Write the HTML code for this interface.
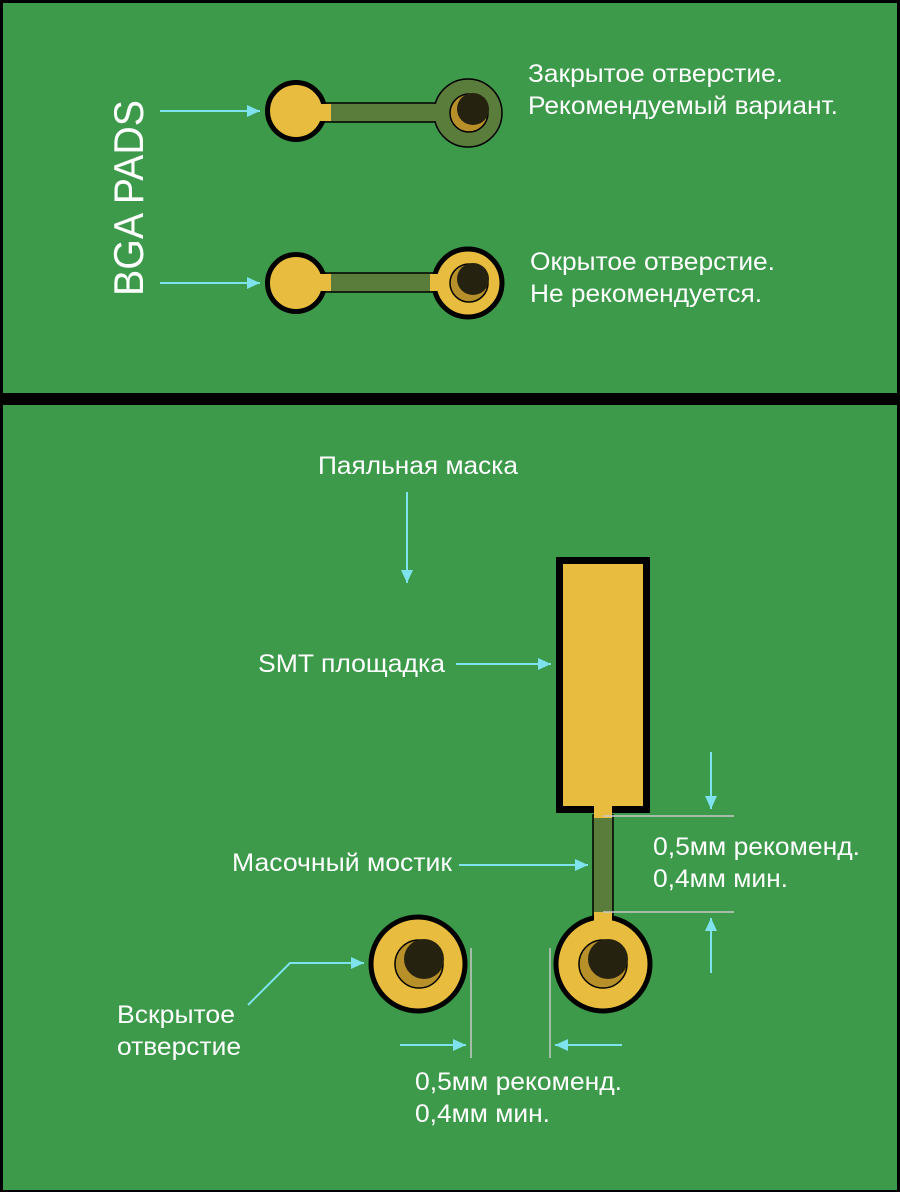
<!DOCTYPE html>
<html><head><meta charset="utf-8"><style>
html,body{margin:0;padding:0;background:#000;}
svg{display:block;}
text{font-family:"Liberation Sans",sans-serif;fill:#fff;font-size:25px;}
</style></head><body>
<svg width="900" height="1192" viewBox="0 0 900 1192" xmlns="http://www.w3.org/2000/svg">
<defs>
<marker id="ah" markerWidth="14" markerHeight="12" refX="13" refY="6" orient="auto" markerUnits="userSpaceOnUse">
<path d="M0,0 L13,6 L0,12 z" fill="#7fe3ef"/>
</marker>
</defs>
<rect x="0" y="0" width="900" height="1192" fill="#000"/>
<rect x="3" y="3" width="894" height="390" fill="#3c9a4a"/>
<rect x="3" y="405" width="894" height="785" fill="#3c9a4a"/>

<!-- BGA PADS -->
<text transform="translate(143,296) rotate(-90)" style="font-size:42px" textLength="196" lengthAdjust="spacingAndGlyphs">BGA PADS</text>

<g stroke="#7fe3ef" stroke-width="2" fill="none">
<line x1="160" y1="111" x2="260" y2="111" marker-end="url(#ah)"/>
<line x1="160" y1="283" x2="260" y2="283" marker-end="url(#ah)"/>
</g>

<!-- Row 1 -->
<rect x="320" y="103" width="120" height="19" fill="#5a7d3c" stroke="#000" stroke-width="1.5"/>
<circle cx="296" cy="111" r="28.5" fill="#e8bc3e" stroke="#000" stroke-width="5"/>
<rect x="320" y="104" width="11" height="17" fill="#e8bc3e"/>
<circle cx="468" cy="113" r="34" fill="#5a7d3c" stroke="#000" stroke-width="1.5"/>
<rect x="430" y="104" width="10" height="17" fill="#5a7d3c"/>
<circle cx="469" cy="113" r="19" fill="#b8902a" stroke="#000" stroke-width="1.5"/>
<circle cx="473" cy="109" r="16" fill="#262210"/>

<!-- Row 2 -->
<rect x="320" y="273" width="120" height="19" fill="#5a7d3c" stroke="#000" stroke-width="1.5"/>
<circle cx="296" cy="283" r="28.5" fill="#e8bc3e" stroke="#000" stroke-width="5"/>
<rect x="320" y="274" width="11" height="17" fill="#e8bc3e"/>
<circle cx="468" cy="283" r="34" fill="#e8bc3e" stroke="#000" stroke-width="5"/>
<rect x="430" y="274" width="10" height="17" fill="#e8bc3e"/>
<circle cx="469" cy="283" r="19" fill="#b8902a" stroke="#000" stroke-width="1.5"/>
<circle cx="473" cy="279" r="16" fill="#262210"/>

<g>
<text x="528" y="82" textLength="255" lengthAdjust="spacingAndGlyphs">Закрытое отверстие.</text>
<text x="528" y="114" textLength="310" lengthAdjust="spacingAndGlyphs">Рекомендуемый вариант.</text>
<text x="530" y="270" textLength="245" lengthAdjust="spacingAndGlyphs">Окрытое отверстие.</text>
<text x="530" y="302" textLength="232" lengthAdjust="spacingAndGlyphs">Не рекомендуется.</text>

<text x="318" y="474" textLength="200" lengthAdjust="spacingAndGlyphs">Паяльная маска</text>
<text x="258" y="672" textLength="187" lengthAdjust="spacingAndGlyphs">SMT площадка</text>
<text x="232" y="871" textLength="220" lengthAdjust="spacingAndGlyphs">Масочный мостик</text>
<text x="653" y="855" textLength="207" lengthAdjust="spacingAndGlyphs">0,5мм рекоменд.</text>
<text x="653" y="887" textLength="135" lengthAdjust="spacingAndGlyphs">0,4мм мин.</text>
<text x="415" y="1090" textLength="207" lengthAdjust="spacingAndGlyphs">0,5мм рекоменд.</text>
<text x="415" y="1122" textLength="135" lengthAdjust="spacingAndGlyphs">0,4мм мин.</text>
<text x="117" y="1023" textLength="118" lengthAdjust="spacingAndGlyphs">Вскрытое</text>
<text x="117" y="1055" textLength="124" lengthAdjust="spacingAndGlyphs">отверстие</text>
</g>

<!-- SMT pad -->
<rect x="559.5" y="560.5" width="87" height="249" fill="#e8bc3e" stroke="#000" stroke-width="7"/>
<rect x="593" y="815" width="20" height="100" fill="#5a7d3c" stroke="#000" stroke-width="1.5"/>
<rect x="594" y="806" width="18" height="12" fill="#e8bc3e"/>
<rect x="594" y="912" width="18" height="10" fill="#e8bc3e"/>

<!-- vias -->
<circle cx="418" cy="964" r="47" fill="#e8bc3e" stroke="#000" stroke-width="5"/>
<circle cx="419" cy="964" r="24" fill="#b8902a" stroke="#000" stroke-width="1.5"/>
<circle cx="424" cy="959" r="20" fill="#262210"/>
<circle cx="603" cy="964" r="47" fill="#e8bc3e" stroke="#000" stroke-width="5"/>
<rect x="594" y="914" width="18" height="8" fill="#e8bc3e"/>
<circle cx="603" cy="964" r="24" fill="#b8902a" stroke="#000" stroke-width="1.5"/>
<circle cx="608" cy="959" r="20" fill="#262210"/>

<!-- dimension lines -->
<g stroke="#c8c8c8" stroke-width="1.5">
<line x1="603" y1="816" x2="734" y2="816"/>
<line x1="603" y1="912" x2="734" y2="912"/>
<line x1="471" y1="948" x2="471" y2="1058"/>
<line x1="550" y1="948" x2="550" y2="1058"/>
</g>

<g stroke="#7fe3ef" stroke-width="2" fill="none">
<line x1="407" y1="492" x2="407" y2="583" marker-end="url(#ah)"/>
<line x1="456" y1="664" x2="551" y2="664" marker-end="url(#ah)"/>
<line x1="459" y1="865" x2="588" y2="865" marker-end="url(#ah)"/>
<line x1="711" y1="752" x2="711" y2="809" marker-end="url(#ah)"/>
<line x1="711" y1="973" x2="711" y2="918" marker-end="url(#ah)"/>
<line x1="400" y1="1045" x2="466" y2="1045" marker-end="url(#ah)"/>
<line x1="622" y1="1045" x2="555" y2="1045" marker-end="url(#ah)"/>
<polyline points="248,1005 290,963 364,963" marker-end="url(#ah)"/>
</g>
</svg>
</body></html>
